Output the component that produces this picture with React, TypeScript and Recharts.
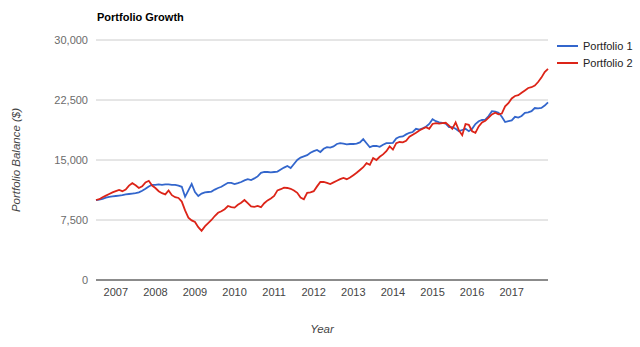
import React from 'react';
import { LineChart, Line, XAxis, YAxis, CartesianGrid, Legend } from 'recharts';

// monthly balances, Jul 2006 .. Dec 2017
const portfolio1 = [
  10000, 10050, 10150, 10300, 10400, 10450,
  10500, 10550, 10600, 10700, 10750, 10800, 10850, 10950, 11150, 11400, 11700, 11900,
  11900, 11950, 11900, 11950, 11950, 11900, 11900, 11800, 11650, 10400, 11200, 12000,
  11000, 10500, 10800, 10950, 11000, 11050, 11300, 11500, 11650, 11900, 12150, 12150,
  12000, 12100, 12250, 12450, 12600, 12500, 12700, 12950, 13400, 13500, 13500, 13450,
  13500, 13550, 13800, 14050, 14250, 14000, 14500, 15000, 15300, 15450, 15600, 15900,
  16100, 16250, 16000, 16400, 16600, 16550, 16700, 17000, 17100, 17050, 16950, 17000,
  17000, 17050, 17200, 17600, 17100, 16600, 16750, 16750, 16650, 16900, 17100, 17100,
  17150, 17700, 17900, 17950, 18200, 18400, 18500, 18900, 18800, 18950, 19150, 19500,
  20100, 19850, 19700, 19650, 19550, 19100, 19100, 18900, 18600, 18750, 18900, 18600,
  18900, 19500, 19850, 20000, 20050, 20500, 21100, 21050, 20900, 20400, 19750, 19850,
  19950, 20400, 20300, 20500, 20900, 20950, 21100, 21500, 21450, 21500, 21800, 22200,
];

const portfolio2 = [
  10000, 10100, 10350, 10550, 10750, 10950,
  11100, 11250, 11100, 11300, 11800, 12100, 11850, 11500, 11700, 12200, 12400, 11800,
  11500, 11100, 10850, 10700, 11200, 10600, 10350, 10250, 9800, 8700, 7800, 7450,
  7250, 6600, 6150, 6700, 7100, 7500, 8000, 8400, 8600, 8850, 9250, 9100,
  9050, 9400, 9650, 10000, 9600, 9200, 9150, 9250, 9100, 9600, 9950, 10200,
  10500, 11200, 11350, 11550, 11500, 11400, 11200, 10900, 10300, 10100, 10900, 10950,
  11100, 11700, 12250, 12250, 12150, 12000, 12200, 12400, 12600, 12750, 12600, 12800,
  13100, 13400, 13750, 14100, 14600, 14400, 15250, 15000, 15400, 15700, 16100, 16700,
  16300, 17100, 17250, 17200, 17400, 17900, 18150, 18400, 18700, 18900, 19100, 18900,
  19500, 19600, 19550, 19600, 19650, 19300, 18900, 19700, 18700, 18100, 19500, 19400,
  18600, 18400, 19200, 19700, 19900, 20300, 20700, 20900, 20700, 20800, 21700, 22100,
  22700, 23000, 23100, 23400, 23700, 24000, 24100, 24300, 24750, 25300, 26000, 26400,
];

const yearLabels = ['2007', '2008', '2009', '2010', '2011', '2012', '2013', '2014', '2015', '2016', '2017'];
const yTicks = [0, 7500, 15000, 22500, 30000];

const FONT = '"Liberation Sans", Arial, sans-serif';

// first data point is Jul 2006, so January of a year sits at (year - 2006) * 12 - 6
const xTicks = yearLabels.map((y) => (Number(y) - 2006) * 12 - 6);

const data = portfolio1.map((v, i) => ({ t: i, p1: v, p2: portfolio2[i] }));

const LegendContent = ({ payload }: any) => (
  <div style={{ fontFamily: FONT, fontSize: 11, color: '#222' }}>
    {(payload || []).map((p: any) => (
      <div key={p.value} style={{ display: 'flex', alignItems: 'center', height: 17 }}>
        <div style={{ width: 21, height: 2, background: p.color, marginRight: 5 }} />
        <span>{p.value}</span>
      </div>
    ))}
  </div>
);

export default function App() {
  return (
    <div style={{ position: 'absolute', left: 0, top: 0, width: 640, height: 347, background: '#fff' }}>
      <div
        style={{
          position: 'absolute',
          left: 97,
          top: 11,
          fontFamily: FONT,
          fontSize: 11,
          fontWeight: 'bold',
          color: '#000',
        }}
      >
        Portfolio Growth
      </div>
      <LineChart width={640} height={347} data={data} margin={{ top: 40, right: 92, left: 0, bottom: 0 }}>
        <CartesianGrid vertical={false} stroke="#cccccc" />
        <XAxis
          dataKey="t"
          type="number"
          domain={[0, portfolio1.length - 1]}
          ticks={xTicks}
          tickFormatter={(v) => yearLabels[xTicks.indexOf(v)]}
          height={67}
          tickLine={false}
          axisLine={{ stroke: '#333', strokeWidth: 1 }}
          tick={{ fill: '#444', fontSize: 11, fontFamily: FONT }}
          tickMargin={2}
          label={{
            value: 'Year',
            position: 'insideBottom',
            offset: 14,
            style: { fill: '#444', fontSize: 11.5, fontStyle: 'italic', fontFamily: FONT },
          }}
        />
        <YAxis
          domain={[0, 30000]}
          ticks={yTicks}
          width={96}
          axisLine={false}
          tickLine={false}
          tickMargin={2}
          tickFormatter={(v) => v.toLocaleString('en-US')}
          tick={{ fill: '#6b6b6b', fontSize: 11, fontFamily: FONT }}
          label={{
            value: 'Portfolio Balance ($)',
            angle: -90,
            position: 'insideLeft',
            offset: 16,
            style: { fill: '#444', fontSize: 11.5, fontStyle: 'italic', fontFamily: FONT, textAnchor: 'middle' },
          }}
        />
        <Legend
          layout="horizontal"
          verticalAlign="middle"
          align="center"
          content={<LegendContent />}
          wrapperStyle={{ left: 557, top: 37, width: 80 }}
        />
        <Line
          type="linear"
          dataKey="p1"
          name="Portfolio 1"
          stroke="#3366cc"
          strokeWidth={1.8}
          dot={false}
          isAnimationActive={false}
        />
        <Line
          type="linear"
          dataKey="p2"
          name="Portfolio 2"
          stroke="#dc2418"
          strokeWidth={1.8}
          dot={false}
          isAnimationActive={false}
        />
      </LineChart>
    </div>
  );
}
